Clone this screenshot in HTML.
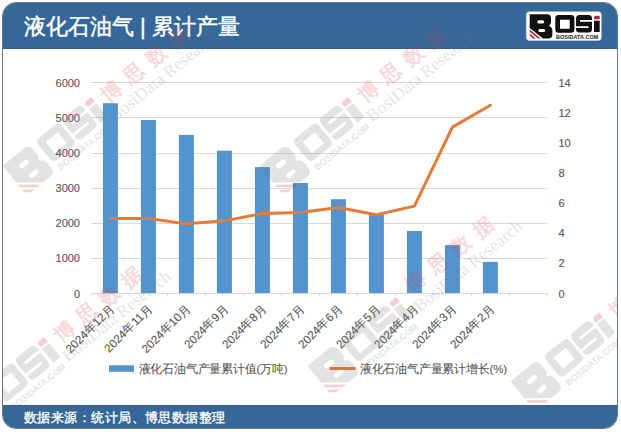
<!DOCTYPE html>
<html><head><meta charset="utf-8">
<style>
html,body{margin:0;padding:0;width:621px;height:434px;overflow:hidden;background:#fff;}
body{position:relative;font-family:"Liberation Sans",sans-serif;}
#frame{position:absolute;left:2px;top:2px;width:616px;height:427px;box-sizing:border-box;border:1px solid #67777f;border-radius:14px;overflow:hidden;background:#fff;}
#hdr{position:absolute;left:0;top:0;width:614px;height:45px;background:#356799;border-bottom:1px solid #3d5b7d;}
#ftr{position:absolute;left:0;top:402px;width:614px;height:23px;background:#356799;border-top:1px solid #3d5b7d;}
#title{position:absolute;left:24px;top:11.5px;-webkit-text-stroke:0.45px #fff;color:#fff;font-size:22px;font-weight:500;white-space:nowrap;line-height:30px;}
#src{position:absolute;left:24px;top:408px;color:#fff;font-size:13.4px;letter-spacing:0.45px;-webkit-text-stroke:0.35px #fff;white-space:nowrap;line-height:20px;}
svg{position:absolute;left:0;top:0;}
.ax{font-size:11px;fill:#555;stroke:#555;stroke-width:0.1px;font-family:"Liberation Sans",sans-serif;}
.xl{font-size:11.7px;fill:#555;stroke:#555;stroke-width:0.12px;font-family:"Liberation Sans",sans-serif;}
.lg{font-size:11.5px;letter-spacing:-0.2px;fill:#555;stroke:#555;stroke-width:0.08px;font-family:"Liberation Sans",sans-serif;}
</style></head><body>
<div id="frame">
<div id="hdr"></div>
<div id="ftr"></div>
</div>
<div id="title">液化石油气 | 累计产量</div>
<div id="src">数据来源：统计局、博思数据整理</div>
<svg width="621" height="434" viewBox="0 0 621 434">

<defs>
<g id="logo">
<path style="fill:var(--k)" fill-rule="evenodd" d="M529.7,14.3 H547 Q551,14.3 551,18.3 V22.3 Q551,24.8 549,26 Q552.4,27 552.4,30.5 V34.4 Q552.4,38.4 548.4,38.4 H543 L529.7,28 Z M538.8,20.2 H542.7 Q544.2,20.2 544.2,21.85 Q544.2,23.5 542.7,23.5 H538.8 Q537.3,23.5 537.3,21.85 Q537.3,20.2 538.8,20.2 Z M539.8,28.9 H543.7 Q545.2,28.9 545.2,30.4 Q545.2,31.9 543.7,31.9 H539.8 Q538.3,31.9 538.3,30.4 Q538.3,28.9 539.8,28.9 Z"/>
<path style="fill:var(--r)" d="M529.7,29.6 L540.8,38.4 L538.2,38.4 L529.7,31.7 Z M529.7,33.6 L535.8,38.4 L533.2,38.4 L529.7,35.7 Z"/>
<path style="fill:var(--k)" fill-rule="evenodd" d="M558.6,15 H571.1 Q574.4,15 574.4,18.3 V29.4 Q574.4,32.7 571.1,32.7 H558.6 Q555.3,32.7 555.3,29.4 V18.3 Q555.3,15 558.6,15 Z M560,19.7 H569.7 V28.7 H560 Z"/>
<path style="fill:var(--k)" fill-rule="evenodd" d="M579.5,15 H588.5 Q592,15 592,18.5 V28.9 Q592,32.4 588.5,32.4 H579.5 Q576,32.4 576,28.9 V18.5 Q576,15 579.5,15 Z M580,20 H592 V21.7 H580 Z M576,26.3 H588.4 V28 H576 Z"/>
<path style="fill:var(--r)" d="M594,17 L595.3,15.7 H599.7 V19.3 H594 Z"/>
<rect style="fill:var(--k)" x="594" y="20.7" width="5.7" height="11.3"/>
<text style="fill:var(--t)" x="556" y="39.4" font-size="5.6" font-weight="bold" textLength="42.4" lengthAdjust="spacingAndGlyphs" font-family="Liberation Sans, sans-serif">BOSIDATA.COM</text>
</g>
<g id="wmlogo">
<use href="#logo" transform="scale(1.6) translate(-540.75,-21.85)"/>
</g>
<g id="wmtext">
<text x="103" y="5.5" font-size="20" font-weight="bold" letter-spacing="9" style="fill:var(--p)">博思数据</text>
<text x="97" y="25" font-size="17.5" font-family="Liberation Serif, serif" style="fill:var(--t)">BosiData Research</text>
</g>
</defs>

<line x1="91.4" y1="258.50" x2="547.4" y2="258.50" stroke="#d9d9d9" stroke-width="1"/>
<line x1="91.4" y1="223.50" x2="547.4" y2="223.50" stroke="#d9d9d9" stroke-width="1"/>
<line x1="91.4" y1="188.50" x2="547.4" y2="188.50" stroke="#d9d9d9" stroke-width="1"/>
<line x1="91.4" y1="153.50" x2="547.4" y2="153.50" stroke="#d9d9d9" stroke-width="1"/>
<line x1="91.4" y1="117.50" x2="547.4" y2="117.50" stroke="#d9d9d9" stroke-width="1"/>
<line x1="91.4" y1="82.50" x2="547.4" y2="82.50" stroke="#d9d9d9" stroke-width="1"/>
<rect x="102.90" y="103.21" width="15" height="190.29" fill="#5393d0"/>
<rect x="140.90" y="119.99" width="15" height="173.51" fill="#5393d0"/>
<rect x="178.90" y="134.90" width="15" height="158.60" fill="#5393d0"/>
<rect x="216.90" y="150.69" width="15" height="142.81" fill="#5393d0"/>
<rect x="254.90" y="167.11" width="15" height="126.39" fill="#5393d0"/>
<rect x="292.90" y="183.01" width="15" height="110.49" fill="#5393d0"/>
<rect x="330.90" y="199.22" width="15" height="94.28" fill="#5393d0"/>
<rect x="368.90" y="214.90" width="15" height="78.60" fill="#5393d0"/>
<rect x="406.90" y="231.01" width="15" height="62.49" fill="#5393d0"/>
<rect x="444.90" y="245.11" width="15" height="48.39" fill="#5393d0"/>
<rect x="482.90" y="261.89" width="15" height="31.61" fill="#5393d0"/>
<line x1="91.4" y1="293.5" x2="547.4" y2="293.5" stroke="#d9d9d9" stroke-width="1"/>
<line x1="91.40" y1="293.5" x2="91.40" y2="296.5" stroke="#d9d9d9" stroke-width="1"/>
<line x1="129.40" y1="293.5" x2="129.40" y2="296.5" stroke="#d9d9d9" stroke-width="1"/>
<line x1="167.40" y1="293.5" x2="167.40" y2="296.5" stroke="#d9d9d9" stroke-width="1"/>
<line x1="205.40" y1="293.5" x2="205.40" y2="296.5" stroke="#d9d9d9" stroke-width="1"/>
<line x1="243.40" y1="293.5" x2="243.40" y2="296.5" stroke="#d9d9d9" stroke-width="1"/>
<line x1="281.40" y1="293.5" x2="281.40" y2="296.5" stroke="#d9d9d9" stroke-width="1"/>
<line x1="319.40" y1="293.5" x2="319.40" y2="296.5" stroke="#d9d9d9" stroke-width="1"/>
<line x1="357.40" y1="293.5" x2="357.40" y2="296.5" stroke="#d9d9d9" stroke-width="1"/>
<line x1="395.40" y1="293.5" x2="395.40" y2="296.5" stroke="#d9d9d9" stroke-width="1"/>
<line x1="433.40" y1="293.5" x2="433.40" y2="296.5" stroke="#d9d9d9" stroke-width="1"/>
<line x1="471.40" y1="293.5" x2="471.40" y2="296.5" stroke="#d9d9d9" stroke-width="1"/>
<line x1="509.40" y1="293.5" x2="509.40" y2="296.5" stroke="#d9d9d9" stroke-width="1"/>
<line x1="547.40" y1="293.5" x2="547.40" y2="296.5" stroke="#d9d9d9" stroke-width="1"/>
<polyline points="110.40,218.44 148.40,218.44 186.40,223.87 224.40,220.86 262.40,213.47 300.40,212.57 338.40,207.44 376.40,214.83 414.40,206.09 452.40,127.11 490.40,105.26" fill="none" stroke="#e47b36" stroke-width="3" stroke-linejoin="round" stroke-linecap="round"/>
<text x="80" y="297.50" text-anchor="end" class="ax">0</text>
<text x="80" y="262.33" text-anchor="end" class="ax">1000</text>
<text x="80" y="227.17" text-anchor="end" class="ax">2000</text>
<text x="80" y="192.00" text-anchor="end" class="ax">3000</text>
<text x="80" y="156.83" text-anchor="end" class="ax">4000</text>
<text x="80" y="121.67" text-anchor="end" class="ax">5000</text>
<text x="80" y="86.50" text-anchor="end" class="ax">6000</text>
<text x="558.5" y="297.50" class="ax">0</text>
<text x="558.5" y="267.36" class="ax">2</text>
<text x="558.5" y="237.21" class="ax">4</text>
<text x="558.5" y="207.07" class="ax">6</text>
<text x="558.5" y="176.93" class="ax">8</text>
<text x="558.5" y="146.79" class="ax">10</text>
<text x="558.5" y="116.64" class="ax">12</text>
<text x="558.5" y="86.50" class="ax">14</text>
<text transform="translate(115.00,309.3) rotate(-45)" text-anchor="end" class="xl xl0">2024年12月</text>
<text transform="translate(153.00,309.3) rotate(-45)" text-anchor="end" class="xl xl1">2024年11月</text>
<text transform="translate(191.00,309.3) rotate(-45)" text-anchor="end" class="xl xl2">2024年10月</text>
<text transform="translate(229.00,309.3) rotate(-45)" text-anchor="end" class="xl xl3">2024年9月</text>
<text transform="translate(267.00,309.3) rotate(-45)" text-anchor="end" class="xl xl4">2024年8月</text>
<text transform="translate(305.00,309.3) rotate(-45)" text-anchor="end" class="xl xl5">2024年7月</text>
<text transform="translate(343.00,309.3) rotate(-45)" text-anchor="end" class="xl xl6">2024年6月</text>
<text transform="translate(381.00,309.3) rotate(-45)" text-anchor="end" class="xl xl7">2024年5月</text>
<text transform="translate(419.00,309.3) rotate(-45)" text-anchor="end" class="xl xl8">2024年4月</text>
<text transform="translate(457.00,309.3) rotate(-45)" text-anchor="end" class="xl xl9">2024年3月</text>
<text transform="translate(495.00,309.3) rotate(-45)" text-anchor="end" class="xl xl10">2024年2月</text>
<rect x="109" y="365.3" width="25" height="6.5" fill="#5393d0"/>
<text x="138.5" y="372.5" class="lg">液化石油气产量累计值(万吨)</text>
<line x1="329.7" y1="368.5" x2="355.4" y2="368.5" stroke="#e47b36" stroke-width="3"/>
<text x="359.8" y="372.5" class="lg">液化石油气产量累计增长(%)</text>
<rect x="526.3" y="11.8" width="75" height="28.6" rx="3" fill="#fff" stroke="#cfd6de" stroke-width="0.6"/>
<use href="#logo" style="--k:#111;--r:#a82c3c;--t:#222"/>
<g style="opacity:0.2;--k:#787878;--r:#c81818;--t:#7c7c7c;--p:#d84848" clip-path="url(#wclip)">
<use href="#wmlogo" transform="translate(24,164) rotate(-39)"/>
<use href="#wmtext" transform="translate(24,164) rotate(-39) translate(0,0)"/>
<use href="#wmlogo" transform="translate(281,164) rotate(-39)"/>
<use href="#wmtext" transform="translate(281,164) rotate(-39) translate(0,0)"/>
<use href="#wmlogo" transform="translate(-23,404) rotate(-39)"/>
<use href="#wmtext" transform="translate(-23,404) rotate(-39) translate(0,0)"/>
<use href="#wmlogo" transform="translate(329,364) rotate(-39)"/>
<use href="#wmtext" transform="translate(329,364) rotate(-39) translate(6,-8)"/>
<use href="#wmlogo" transform="translate(532,379.5) rotate(-39)"/>
<use href="#wmtext" transform="translate(532,379.5) rotate(-39) translate(0,0)"/>
</g>
<clipPath id="wclip"><rect x="3" y="0" width="614" height="405"/></clipPath>
</svg>
</body></html>
